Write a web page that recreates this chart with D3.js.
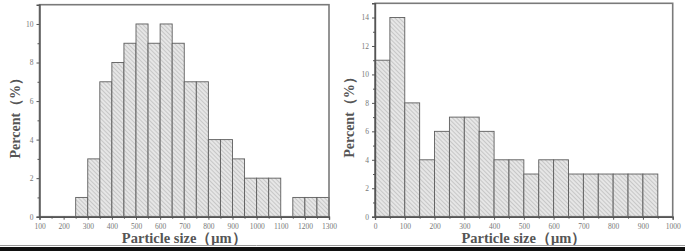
<!DOCTYPE html>
<html>
<head>
<meta charset="utf-8">
<script src="https://cdn.jsdelivr.net/npm/d3@7"></script>
<style>
  body { margin: 0; background: #fff; }
  svg text { font-family: "Liberation Serif", "DejaVu Serif", serif; }
</style>
</head>
<body>
<div id="chart"></div>
<script>
// left panel: bin start (µm) and percent
const leftBins = [250, 300, 350, 400, 450, 500, 550, 600, 650, 700, 750, 800, 850, 900, 950, 1000, 1050, 1150, 1200, 1250];
const leftValues = [1, 3, 7, 8, 9, 10, 9, 10, 9, 7, 7, 4, 4, 3, 2, 2, 2, 1, 1, 1];
const leftXTicks = [100, 200, 300, 400, 500, 600, 700, 800, 900, 1000, 1100, 1200, 1300];
const leftYTicks = [0, 2, 4, 6, 8, 10];

// right panel
const rightBins = [0, 50, 100, 150, 200, 250, 300, 350, 400, 450, 500, 550, 600, 650, 700, 750, 800, 850, 900];
const rightValues = [11, 14, 8, 4, 6, 7, 7, 6, 4, 4, 3, 4, 4, 3, 3, 3, 3, 3, 3];
const rightXTicks = [0, 100, 200, 300, 400, 500, 600, 700, 800, 900, 1000];
const rightYTicks = [0, 2, 4, 6, 8, 10, 12, 14];

const binWidth = 50;

const svg = d3.select('#chart').append('svg')
  .attr('width', 685).attr('height', 251);

// fine diagonal hatch, lines falling to the right
const defs = svg.append('defs');
const pat = defs.append('pattern')
  .attr('id', 'hatch')
  .attr('patternUnits', 'userSpaceOnUse')
  .attr('width', 3).attr('height', 3)
  .attr('patternTransform', 'rotate(45)');
pat.append('rect').attr('width', 3).attr('height', 3).attr('fill', '#e6e6e6');
pat.append('line').attr('x1', 0).attr('y1', 0).attr('x2', 3).attr('y2', 0)
  .attr('stroke', '#a2a2a2').attr('stroke-width', 0.9);

function drawPanel(cfg) {
  const x = d3.scaleLinear().domain(cfg.xDomain).range([cfg.left, cfg.right]);
  const y = d3.scaleLinear().domain(cfg.yDomain).range([cfg.bottom, cfg.top]);
  const g = svg.append('g');

  g.selectAll('.bar')
    .data(cfg.bins.map((b, i) => ({ b: b, v: cfg.values[i] })))
    .enter().append('rect')
    .attr('class', 'bar')
    .attr('x', d => x(d.b))
    .attr('y', d => y(d.v))
    .attr('width', d => x(d.b + binWidth) - x(d.b))
    .attr('height', d => y(0) - y(d.v))
    .attr('fill', 'url(#hatch)')
    .attr('stroke', '#5e5e5e')
    .attr('stroke-width', 0.9);

  // frame
  g.append('rect')
    .attr('x', cfg.left).attr('y', cfg.top)
    .attr('width', cfg.right - cfg.left).attr('height', cfg.bottom - cfg.top)
    .attr('fill', 'none').attr('stroke', '#7a7a7a').attr('stroke-width', 1.6);

  const xAxis = d3.axisBottom(x).tickValues(cfg.xTicks).tickSize(3).tickFormat(d3.format('d'));
  const xg = g.append('g').attr('transform', `translate(0,${cfg.bottom})`).call(xAxis);
  const xMinor = d3.axisBottom(x)
    .tickValues(d3.range(cfg.xDomain[0] + 50, cfg.xDomain[1], 100))
    .tickSize(2).tickFormat('');
  g.append('g').attr('transform', `translate(0,${cfg.bottom})`).call(xMinor)
    .call(s => s.select('.domain').remove());

  const yAxis = d3.axisLeft(y).tickValues(cfg.yTicks).tickSize(3);
  const yg = g.append('g').attr('transform', `translate(${cfg.left},0)`).call(yAxis);
  const yMinor = d3.axisLeft(y)
    .tickValues(d3.range(1, cfg.yDomain[1], 2))
    .tickSize(2).tickFormat('');
  g.append('g').attr('transform', `translate(${cfg.left},0)`).call(yMinor)
    .call(s => s.select('.domain').remove());

  g.selectAll('.domain').attr('stroke', '#555').attr('stroke-width', 1.4);
  g.selectAll('.tick line').attr('stroke', '#555');
  xg.selectAll('text').attr('font-size', 7.5).attr('fill', '#777').attr('dy', '0.9em')
    .style('font-family', '"Liberation Serif", serif');
  yg.selectAll('text').attr('font-size', 7.5).attr('fill', '#777')
    .style('font-family', '"Liberation Serif", serif');

  g.append('text')
    .attr('x', (cfg.left + cfg.right) / 2).attr('y', 243)
    .attr('text-anchor', 'middle')
    .attr('font-size', 14.5).attr('font-weight', 'bold').attr('fill', '#555')
    .text('Particle size（μm）');
  g.append('text')
    .attr('transform', `translate(${cfg.yTitleX},${(cfg.top + cfg.bottom) / 2 + 4}) rotate(-90)`)
    .attr('text-anchor', 'middle')
    .attr('font-size', 14).attr('font-weight', 'bold').attr('fill', '#555')
    .text('Percent（%）');
}

drawPanel({
  bins: leftBins, values: leftValues, xTicks: leftXTicks, yTicks: leftYTicks,
  xDomain: [100, 1300], yDomain: [0, 11],
  left: 39.5, right: 329, top: 4.7, bottom: 216.7, yTitleX: 20
});
drawPanel({
  bins: rightBins, values: rightValues, xTicks: rightXTicks, yTicks: rightYTicks,
  xDomain: [0, 1000], yDomain: [0, 15],
  left: 375, right: 672.7, top: 3.3, bottom: 216.7, yTitleX: 354
});

// dark strip along the bottom of the figure
svg.append('line').attr('x1', 0).attr('x2', 685).attr('y1', 245.5).attr('y2', 245.5)
  .attr('stroke', '#999').attr('stroke-width', 1);
svg.append('rect').attr('x', 0).attr('y', 247).attr('width', 685).attr('height', 4).attr('fill', '#111');
</script>
</body>
</html>
